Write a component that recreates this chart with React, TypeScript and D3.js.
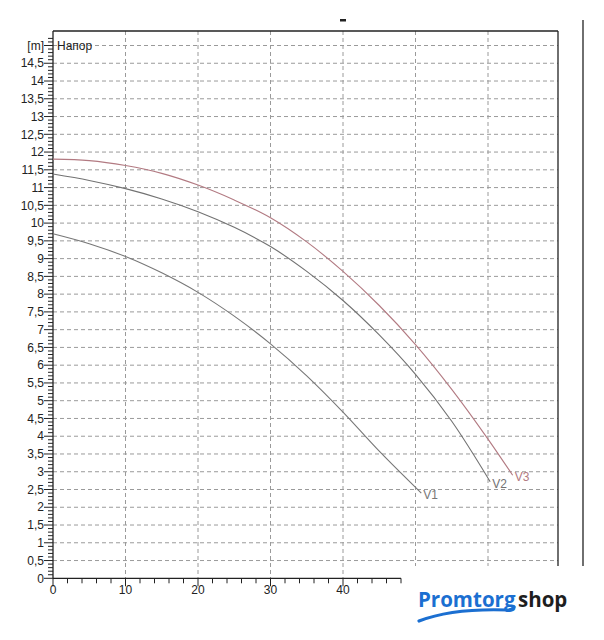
import React from "react";
import * as d3 from "d3";

const flowV1 = [0, 5, 10, 15, 20, 25, 30, 35, 40, 45, 50.8];
const headV1 = [9.7, 9.42, 9.06, 8.6, 8.05, 7.38, 6.6, 5.7, 4.68, 3.58, 2.4];
const flowV2 = [0, 5, 10, 15, 20, 25, 30, 35, 40, 45, 50, 55, 60.3];
const headV2 = [11.38, 11.2, 10.97, 10.68, 10.32, 9.88, 9.34, 8.64, 7.82, 6.85, 5.74, 4.42, 2.72];
const flowV3 = [0, 5, 10, 15, 20, 25, 30, 35, 40, 45, 50, 55, 60, 63.4];
const headV3 = [11.8, 11.76, 11.62, 11.4, 11.07, 10.65, 10.15, 9.47, 8.64, 7.68, 6.58, 5.32, 3.92, 2.9];
const seriesNames = ["V1", "V2", "V3"];
const yTicks = d3.range(0, 15, 0.5);
const xTicks = [0, 10, 20, 30, 40];
const xGrid = [10, 20, 30, 40, 50, 60];
const yUnit = "[m]";
const yTitle = "Напор";
const logoParts = ["Promtorg", "shop"];

export default function App() {
  const x = d3.scaleLinear().domain([0, 70]).range([53, 560.5]);
  const y = d3.scaleLinear().domain([0, 15]).range([578.3, 45.5]);
  const top = 31;
  const right = 558;
  const line = d3
    .line<[number, number]>()
    .x((d) => x(d[0]))
    .y((d) => y(d[1]))
    .curve(d3.curveCatmullRom.alpha(0.5));
  const series = [
    { name: seriesNames[0], f: flowV1, h: headV1, color: "#777777" },
    { name: seriesNames[1], f: flowV2, h: headV2, color: "#727272" },
    { name: seriesNames[2], f: flowV3, h: headV3, color: "#b27a82" },
  ];
  const font = "Liberation Sans, Arial, sans-serif";
  const yMinor = d3.range(0, 15.3, 0.1).map((v) => Math.round(v * 10) / 10);
  const xMinor = d3.range(0, 49, 2);
  const gridColor = "#9a9a9a";
  return (
    <svg
      width={604}
      height={640}
      style={{ position: "absolute", left: 0, top: 0, background: "#fff" }}
      fontFamily={font}
    >
      <rect x={0} y={0} width={604} height={640} fill="#fff" />
      {[...yTicks.slice(1), 15].map((v) => (
        <line
          key={"hg" + v}
          x1={x(0)}
          x2={right}
          y1={y(v)}
          y2={y(v)}
          stroke={gridColor}
          strokeWidth={1}
          strokeDasharray="4,3"
        />
      ))}
      {xGrid.map((v) => (
        <line
          key={"vg" + v}
          x1={x(v)}
          x2={x(v)}
          y1={top}
          y2={y(0)}
          stroke={gridColor}
          strokeWidth={1}
          strokeDasharray="4,3"
        />
      ))}
      <line x1={x(0)} x2={right} y1={top} y2={top} stroke="#222" strokeWidth={1.3} />
      <line x1={right} x2={right} y1={top} y2={y(0)} stroke="#222" strokeWidth={1.3} />
      <line x1={x(0)} x2={x(0)} y1={top} y2={y(0)} stroke="#222" strokeWidth={1.3} />
      <line x1={x(0)} x2={x(48)} y1={y(0)} y2={y(0)} stroke="#222" strokeWidth={1.3} />
      <line x1={583} x2={583} y1={20} y2={566} stroke="#222" strokeWidth={1.3} />
      <rect x={340} y={19} width={6} height={2.5} fill="#222" />
      {yMinor.map((v) => (
        <line
          key={"ym" + v}
          x1={x(0) - (Math.abs(v * 2 - Math.round(v * 2)) < 1e-6 ? 9 : 5)}
          x2={x(0)}
          y1={y(v)}
          y2={y(v)}
          stroke="#222"
          strokeWidth={1}
        />
      ))}
      {yTicks.map((v) => (
        <text
          key={"yl" + v}
          x={44}
          y={y(v)}
          dy="0.35em"
          textAnchor="end"
          fontSize={12}
          fill="#222"
        >
          {String(v).replace(".", ",")}
        </text>
      ))}
      <text x={44} y={y(15)} dy="0.35em" textAnchor="end" fontSize={12} fill="#222">
        {yUnit}
      </text>
      <text x={57} y={y(15)} dy="0.35em" fontSize={12} fill="#222">
        {yTitle}
      </text>
      {xMinor.map((v) => (
        <line
          key={"xm" + v}
          x1={x(v)}
          x2={x(v)}
          y1={y(0)}
          y2={y(0) + (v % 10 === 0 ? 8 : 5)}
          stroke="#222"
          strokeWidth={1}
        />
      ))}
      {xTicks.map((v) => (
        <text
          key={"xl" + v}
          x={x(v)}
          y={594}
          textAnchor="middle"
          fontSize={12}
          fill="#222"
        >
          {v}
        </text>
      ))}
      {series.map((s) => {
        const pts = s.f.map((f, i) => [f, s.h[i]] as [number, number]);
        const last = pts[pts.length - 1];
        return (
          <g key={s.name}>
            <path d={line(pts) || ""} fill="none" stroke={s.color} strokeWidth={1.1} />
            <text
              x={x(last[0]) + 2}
              y={y(last[1]) + 6}
              fontSize={12}
              fill={s.color}
            >
              {s.name}
            </text>
          </g>
        );
      })}
      <rect x={405} y={566} width={199} height={74} fill="#fff" />
      <text
        x={418}
        y={607}
        fontSize={20.5}
        fontWeight="bold"
        fontFamily="Open Sans, sans-serif"
        fill="#1b6fd1"
      >
        {logoParts[0]}
      </text>
      <text
        x={518}
        y={607}
        fontSize={20.5}
        fontWeight="bold"
        fontFamily="Open Sans, sans-serif"
        fill="#1e1e1e"
      >
        {logoParts[1]}
      </text>
      <path
        d="M419,621 C445,611 480,609 508,610 C511,610 513,609 514,607"
        fill="none"
        stroke="#1b6fd1"
        strokeWidth={3.2}
        strokeLinecap="round"
      />
    </svg>
  );
}
